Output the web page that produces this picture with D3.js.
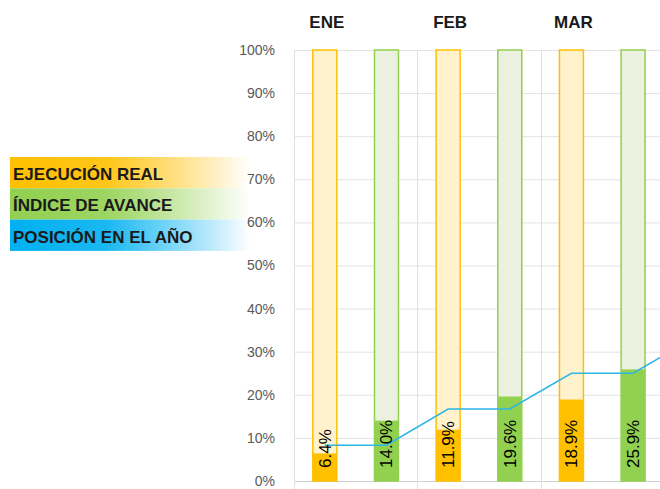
<!DOCTYPE html>
<html>
<head>
<meta charset="utf-8">
<script src="https://cdn.jsdelivr.net/npm/d3@7"></script>
<style>
    body { margin: 0; background: #fff; }
    svg { display: block; font-family: "Liberation Sans", Arial, sans-serif; }
</style>
</head>
<body>
<div id="chart"></div>
<script>
// months on the x axis (ABR is off the right edge, only the line runs into it)
var MONTHS = ["ENE", "FEB", "MAR", "ABR"];
// month headers shown above the chart
var HEADERS = ["ENE", "FEB", "MAR"];
// ejecucion real (%)
var EJECUCION = [6.4, 11.9, 18.9];
// indice de avance (%)
var AVANCE = [14.0, 19.6, 25.9];
// posicion en el año (%), one point under each bar
var POSICION = [8.3, 8.3, 16.7, 16.7, 25.0, 25.0, 33.3];
var Y_TICKS = [0, 10, 20, 30, 40, 50, 60, 70, 80, 90, 100];
var LEGEND = [
    { label: "EJECUCIÓN REAL", color: "#FFC000" },
    { label: "ÍNDICE DE AVANCE", color: "#92D050" },
    { label: "POSICIÓN EN EL AÑO", color: "#00B0F0" }
];

var WIDTH = 660, HEIGHT = 489;
var ORANGE = "#FFC000", ORANGE_LIGHT = "#FFF2CC";
var GREEN = "#92D050", GREEN_LIGHT = "#EBF1DE";
var BLUE = "#2DB5E8";

var svg = d3.select("#chart").append("svg")
    .attr("width", WIDTH)
    .attr("height", HEIGHT);

var x = d3.scaleBand()
    .domain(MONTHS)
    .range([294, 294 + 123.3 * MONTHS.length])
    .padding(0);

var y = d3.scaleLinear()
    .domain([0, 100])
    .range([481, 50]);

var barW = 24;
function barCenter(i, kind) {
    // kind 0 = ejecucion, 1 = avance
    return x(MONTHS[i]) + x.bandwidth() * (kind === 0 ? 0.25 : 0.75);
}

// legend with gradient bands (drawn first so the tick labels sit on top)
var defs = svg.append("defs");
LEGEND.forEach(function(d, i) {
    var g = defs.append("linearGradient")
        .attr("id", "lg" + i)
        .attr("x1", "0").attr("x2", "1").attr("y1", "0").attr("y2", "0");
    g.append("stop").attr("offset", "0%").attr("stop-color", d.color);
    g.append("stop").attr("offset", "40%").attr("stop-color", d.color).attr("stop-opacity", 0.9);
    g.append("stop").attr("offset", "100%").attr("stop-color", "#fff").attr("stop-opacity", 1);
});

var legend = svg.append("g").attr("transform", "translate(10,157)");
legend.selectAll("rect")
    .data(LEGEND)
    .enter().append("rect")
    .attr("x", 0)
    .attr("y", function(d, i) { return i * 31.3; })
    .attr("width", 240)
    .attr("height", 31.3)
    .attr("fill", function(d, i) { return "url(#lg" + i + ")"; });

legend.selectAll("text")
    .data(LEGEND)
    .enter().append("text")
    .attr("x", 3)
    .attr("y", function(d, i) { return i * 31.3 + 23; })
    .attr("font-size", "17px")
    .attr("font-weight", "bold")
    .attr("fill", "#1a1a1a")
    .text(function(d) { return d.label; });

// gridlines
var grid = svg.append("g").attr("class", "grid");
grid.selectAll("line.h")
    .data(Y_TICKS)
    .enter().append("line")
    .attr("x1", x.range()[0])
    .attr("x2", WIDTH)
    .attr("y1", function(d) { return y(d) + 0.5; })
    .attr("y2", function(d) { return y(d) + 0.5; })
    .attr("stroke", function(d) { return d === 0 ? "#D0D0D0" : "#E3E3E3"; })
    .attr("stroke-width", 1);

grid.selectAll("line.v")
    .data(MONTHS)
    .enter().append("line")
    .attr("x1", function(d) { return Math.round(x(d)) + 0.5; })
    .attr("x2", function(d) { return Math.round(x(d)) + 0.5; })
    .attr("y1", y(100))
    .attr("y2", y(0) + 8)
    .attr("stroke", "#E0E0E0")
    .attr("stroke-width", 1);

// y axis labels
var yAxis = d3.axisLeft(y)
    .tickValues(Y_TICKS)
    .tickFormat(function(d) { return d + "%"; })
    .tickSize(0)
    .tickPadding(0);

svg.append("g")
    .attr("transform", "translate(275,0)")
    .call(yAxis)
    .call(function(g) { g.select(".domain").remove(); })
    .selectAll("text")
    .attr("fill", "#595959")
    .attr("font-size", "14px")
    .attr("font-family", "'Liberation Sans', Arial, sans-serif");

// background (100%) bars and value bars
var bars = svg.append("g");
[0, 1].forEach(function(kind) {
    var vals = kind === 0 ? EJECUCION : AVANCE;
    bars.selectAll("rect.bg" + kind)
        .data(vals)
        .enter().append("rect")
        .attr("x", function(d, i) { return barCenter(i, kind) - barW / 2; })
        .attr("y", y(100))
        .attr("width", barW)
        .attr("height", y(0) - y(100))
        .attr("fill", kind === 0 ? ORANGE_LIGHT : GREEN_LIGHT)
        .attr("stroke", kind === 0 ? ORANGE : GREEN)
        .attr("stroke-width", 1.5);

    bars.selectAll("rect.val" + kind)
        .data(vals)
        .enter().append("rect")
        .attr("x", function(d, i) { return barCenter(i, kind) - barW / 2; })
        .attr("y", function(d) { return y(d); })
        .attr("width", barW)
        .attr("height", function(d) { return y(0) - y(d); })
        .attr("fill", kind === 0 ? ORANGE : GREEN);
});

// posicion line
var linePts = [];
EJECUCION.forEach(function(d, i) {
    linePts.push([barCenter(i, 0), POSICION[i * 2]]);
    linePts.push([barCenter(i, 1), POSICION[i * 2 + 1]]);
});
linePts.push([barCenter(3, 0), POSICION[6]]);

svg.append("path")
    .datum(linePts)
    .attr("fill", "none")
    .attr("stroke", BLUE)
    .attr("stroke-width", 1.6)
    .attr("d", d3.line()
        .x(function(d) { return d[0]; })
        .y(function(d) { return y(d[1]); }));

// value labels, rotated
[0, 1].forEach(function(kind) {
    var vals = kind === 0 ? EJECUCION : AVANCE;
    svg.selectAll("text.lbl" + kind)
        .data(vals)
        .enter().append("text")
        .attr("transform", function(d, i) {
            return "translate(" + (barCenter(i, kind) + 6) + "," + (y(0) - 13) + ") rotate(-90)";
        })
        .attr("text-anchor", "start")
        .attr("font-size", "17px")
        .attr("fill", "#000")
        .text(function(d) { return d.toFixed(1) + "%"; });
});

// month headers
svg.selectAll("text.month")
    .data(HEADERS)
    .enter().append("text")
    .attr("x", function(d, i) { return barCenter(i, 0) + 2; })
    .attr("y", 28)
    .attr("text-anchor", "middle")
    .attr("font-size", "17px")
    .attr("font-weight", "bold")
    .attr("fill", "#1a1a1a")
    .text(function(d) { return d; });
</script>
</body>
</html>
